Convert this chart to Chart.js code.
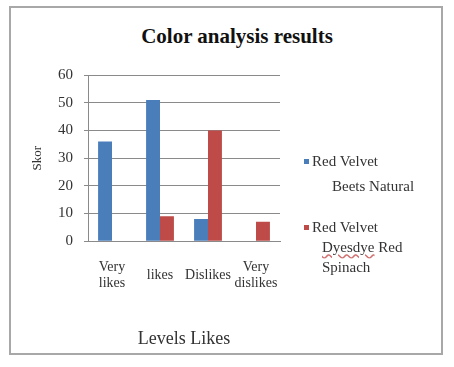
<!DOCTYPE html>
<html><head><meta charset="utf-8">
<script src="https://cdn.jsdelivr.net/npm/chart.js@4"></script>
<style>
html,body{margin:0;padding:0;background:#fff;}
#wrap{position:relative;width:454px;height:367px;overflow:hidden;font-family:"Liberation Serif",serif;}
#frame{position:absolute;left:9px;top:6px;width:434px;height:349px;border:2px solid #a8a8a8;box-sizing:border-box;}
#title{position:absolute;left:0;width:474px;top:24px;text-align:center;font-weight:bold;font-size:21px;color:#111;}
canvas{position:absolute;left:0;top:0;}
.lg{position:absolute;font-size:15px;color:#333;white-space:nowrap;line-height:20px;}
.sw{display:inline-block;width:5px;height:5px;margin-right:3px;vertical-align:2px;}
</style></head>
<body><div id="wrap">
<div id="frame"></div>
<div id="title">Color analysis results</div>
<canvas id="c" width="454" height="367"></canvas>
<div class="lg" style="left:304px;top:151px;"><span class="sw" style="background:#4a7ebb"></span>Red Velvet</div>
<div class="lg" style="left:332px;top:176px;">Beets Natural</div>
<div class="lg" style="left:304px;top:217px;"><span class="sw" style="background:#be4b48"></span>Red Velvet</div>
<div class="lg" style="left:322px;top:237px;"><span style="text-decoration:underline wavy #d07070;">Dyesdye</span> Red</div>
<div class="lg" style="left:322px;top:257px;">Spinach</div>
</div>
<script>
const categories = [["Very","likes"], "likes", "Dislikes", ["Very","dislikes"]];
const seriesNames = ["Red Velvet Beets Natural", "Red Velvet Dyesdye Red Spinach"];
const beetsNatural = [36, 51, 8, 0];
const dyesdyeRedSpinach = [0, 9, 40, 7];
const yTicks = [0, 10, 20, 30, 40, 50, 60];

const grid = '#8a8a8a';
new Chart(document.getElementById('c'), {
  type: 'bar',
  data: {
    labels: categories,
    datasets: [
      {label: seriesNames[0], data: beetsNatural, backgroundColor: '#4a7ebb', categoryPercentage: 0.58, barPercentage: 1},
      {label: seriesNames[1], data: dyesdyeRedSpinach, backgroundColor: '#be4b48', categoryPercentage: 0.58, barPercentage: 1}
    ]
  },
  options: {
    responsive: false,
    animation: false,
    layout: {padding: {left: 28, right: 174, top: 75, bottom: 17}},
    plugins: {legend: {display: false}, title: {display: false}, tooltip: {enabled: false}},
    scales: {
      y: {
        min: yTicks[0], max: yTicks[yTicks.length - 1],
        afterBuildTicks: s => { s.ticks = yTicks.map(v => ({value: v})); },
        afterFit: s => { s.width = 60; },
        grid: {color: grid, tickLength: 4, lineWidth: 1},
        border: {color: grid},
        ticks: {padding: 11, color: '#333', font: {family: 'Liberation Serif', size: 15}},
        title: {display: true, text: 'Skor', color: '#333', padding: {top: 2, bottom: 2}, font: {family: 'Liberation Serif', size: 13}}
      },
      x: {
        grid: {display: false},
        border: {color: grid},
        ticks: {padding: 18, autoSkip: false, crossAlign: 'center', maxRotation: 0, color: '#333', font: {family: 'Liberation Serif', size: 14, lineHeight: 1.15}},
        title: {display: true, text: 'Levels Likes', color: '#333', padding: {top: 11, bottom: 0}, font: {family: 'Liberation Serif', size: 18}}
      }
    }
  }
});
</script>
</body></html>
